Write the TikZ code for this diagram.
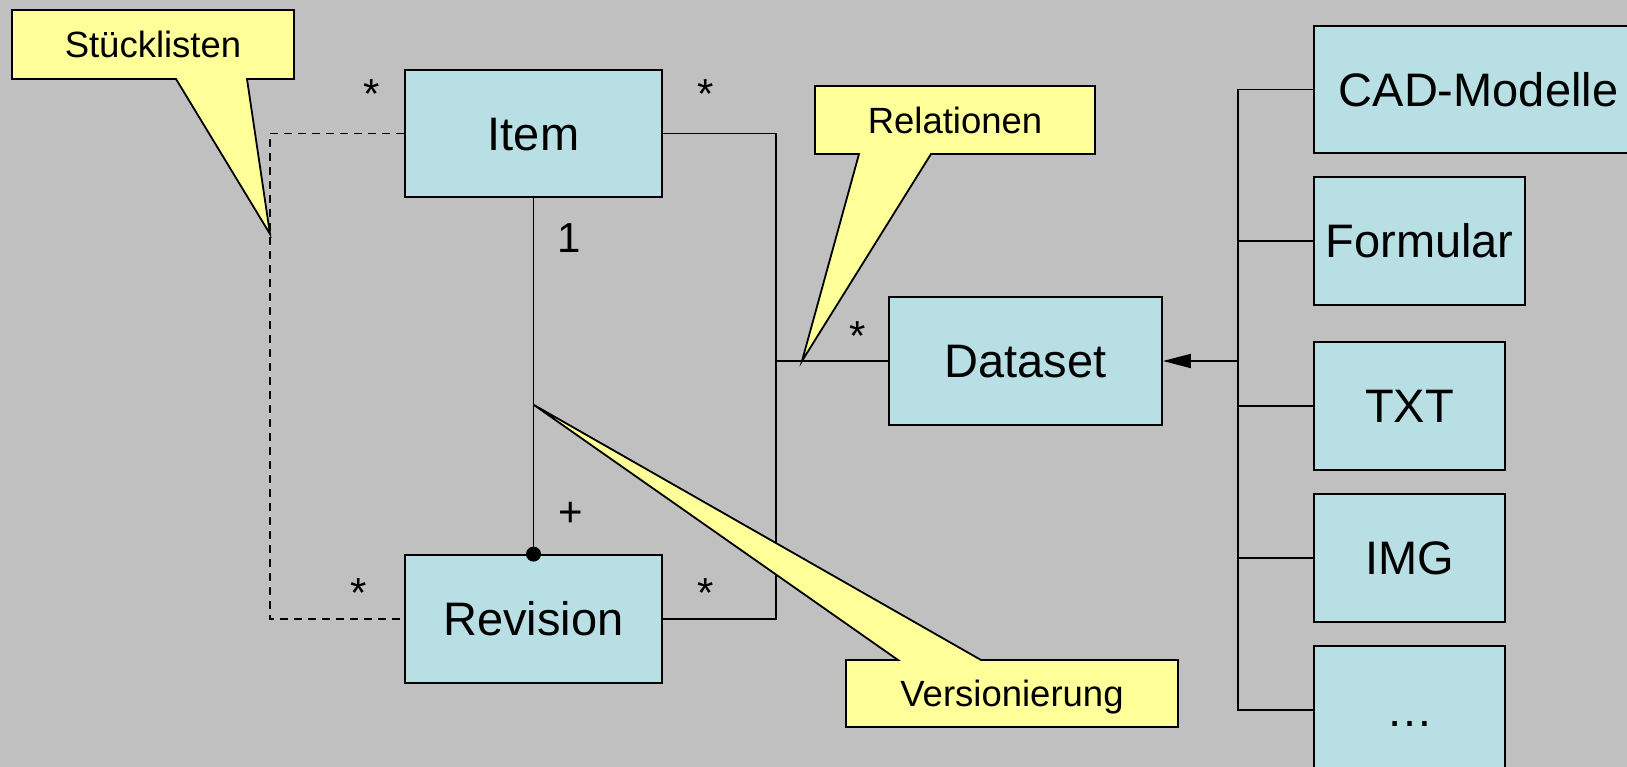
\documentclass[tikz,border=0pt]{standalone}
\usepackage{fontspec}
\setmainfont{Liberation Sans}
\usetikzlibrary{arrows.meta}
\definecolor{bg}{HTML}{C0C0C0}
\definecolor{boxfill}{HTML}{B8DFE3}
\definecolor{notefill}{HTML}{FFFF99}
\begin{document}
\begin{tikzpicture}[x=1pt,y=-1pt,
  cls/.style={draw, line width=1.8pt, fill=boxfill, inner sep=0pt,
    text height=33.6pt, text depth=0pt, font=\fontsize{47}{56}\selectfont},
  note/.style={draw, line width=1.8pt, fill=notefill, line join=miter},
  notetext/.style={inner sep=0pt, text height=26.1pt, text depth=0pt,
    font=\fontsize{36.5}{44}\selectfont},
  mult/.style={inner sep=0pt, font=\fontsize{42}{50}\selectfont},
  conn/.style={line width=1.8pt},
  dconn/.style={line width=1.5pt, dash pattern=on 8pt off 6pt},
]
\fill[bg] (0,0) rectangle (1627,767);
\useasboundingbox (0,0) rectangle (1627,767);

% class boxes
\node[cls, minimum width=257pt, minimum height=127pt] (item) at (533.5,133.5) {Item};
\node[cls, minimum width=257pt, minimum height=128pt] (revision) at (533.5,619) {Revision};
\node[cls, minimum width=273pt, minimum height=128pt] (dataset) at (1025.5,361) {Dataset};
\node[cls, minimum width=329pt, minimum height=127pt] (cad) at (1478.5,89.5) {CAD-Modelle};
\node[cls, minimum width=211pt, minimum height=128pt] (formular) at (1419.5,241) {Formular};
\node[cls, minimum width=191pt, minimum height=128pt] (txt) at (1409.5,406) {TXT};
\node[cls, minimum width=191pt, minimum height=128pt] (img) at (1409.5,558) {IMG};
\node[cls, minimum width=191pt, minimum height=128pt] (dots) at (1409.5,710) {…};

% coordinates for junctions
\coordinate (rj) at (776,361);
\coordinate (dj) at (270,376);
\coordinate (tj) at (1238,361);

% relations bus
\draw[conn] (item.east) -| (rj) |- (revision.east);
\draw[conn] (rj) -- (dataset.west);

% Stuecklisten (dashed)
\draw[dconn] (item.west) -| (dj) |- (revision.west);

% composition
\draw[conn] (item.south) -- (revision.north);
\fill (revision.north) circle (7.5pt);

% inheritance tree
\draw[conn] (cad.west) -| (tj) |- (dots.west);
\draw[conn] (formular.west) -- (formular.west -| tj);
\draw[conn] (txt.west) -- (txt.west -| tj);
\draw[conn] (img.west) -- (img.west -| tj);
\draw[conn, -{Triangle[length=28pt,width=14pt]}] (tj) -- (dataset.east);

% multiplicities
\node[mult, anchor=base] (m1) at (372,109) {*};
\node[mult, anchor=base] (m2) at (706,109) {*};
\node[mult, anchor=base] (m3) at (359,607) {*};
\node[mult, anchor=base] (m4) at (706,607) {*};
\node[mult, anchor=base] (m5) at (858,350) {*};
\node[mult] (one) at (569,238) {1};
\node[mult] (plus) at (571,514) {+};

% callouts
\draw[note] (12,10) -- (294,10) -- (294,79) -- (247,79) -- (270,234) -- (176,79) -- (12,79) -- cycle;
\node[notetext] (stueck) at (153,44.5) {Stücklisten};

\draw[note] (815,86) -- (1095,86) -- (1095,154) -- (931,154) -- (802,361) -- (859,154) -- (815,154) -- cycle;
\node[notetext] (relat) at (955,120) {Relationen};

\draw[note] (846,660) -- (898,660) -- (534,405) -- (981,660) -- (1178,660) -- (1178,727) -- (846,727) -- cycle;
\node[notetext] (versio) at (1012,693.5) {Versionierung};
\end{tikzpicture}
\end{document}
